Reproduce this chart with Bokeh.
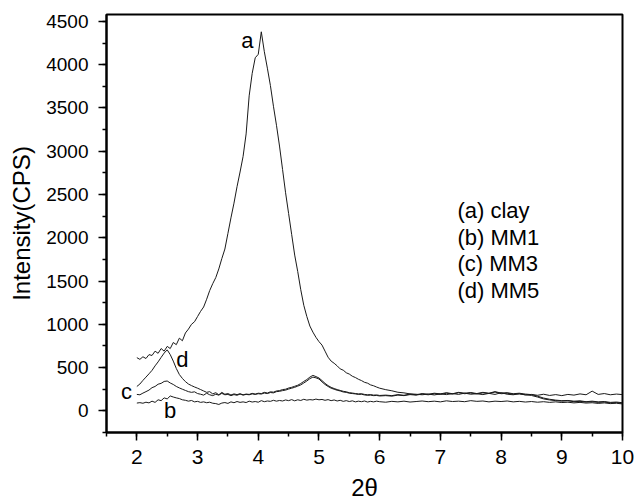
from bokeh.plotting import figure
from bokeh.models import Range1d, SingleIntervalTicker
from bokeh.core.properties import value
from bokeh.embed import file_html
from bokeh.resources import INLINE

# ---------------- data ----------------
two_theta = [2.00, 2.05, 2.10, 2.15, 2.20, 2.25, 2.30, 2.35, 2.40, 2.45,
             2.50, 2.55, 2.60, 2.65, 2.70, 2.75, 2.80, 2.85, 2.90, 2.95,
             3.00, 3.05, 3.10, 3.15, 3.20, 3.25, 3.30, 3.35, 3.40, 3.45,
             3.50, 3.55, 3.60, 3.65, 3.70, 3.75, 3.80, 3.85, 3.90, 3.95,
             4.00, 4.05, 4.10, 4.15, 4.20, 4.25, 4.30, 4.35, 4.40, 4.45,
             4.50, 4.55, 4.60, 4.65, 4.70, 4.75, 4.80, 4.85, 4.90, 4.95,
             5.00, 5.05, 5.10, 5.15, 5.20, 5.25, 5.30, 5.35, 5.40, 5.45,
             5.50, 5.55, 5.60, 5.65, 5.70, 5.75, 5.80, 5.85, 5.90, 5.95,
             6.00,
             6.1, 6.2, 6.3, 6.4, 6.5, 6.6, 6.7, 6.8, 6.9, 7.0,
             7.1, 7.2, 7.3, 7.4, 7.5, 7.6, 7.7, 7.8, 7.9, 8.0,
             8.1, 8.2, 8.3, 8.4, 8.5, 8.6, 8.7, 8.8, 8.9, 9.0,
             9.1, 9.2, 9.3, 9.4, 9.5, 9.6, 9.7, 9.8, 9.9, 10.0]

clay = [615, 595, 625, 605, 650, 640, 690, 665, 720, 690,
        745, 720, 790, 765, 840, 810, 900, 945, 1000, 1030,
        1090, 1150, 1200, 1290, 1390, 1470, 1540, 1640, 1760, 1870,
        2050, 2230, 2400, 2590, 2760, 2940, 3200, 3640, 3900, 4080,
        4120, 4380, 4150, 3960, 3760, 3520, 3300, 3060, 2790, 2520,
        2280, 2040, 1800, 1610, 1400, 1220, 1090, 980, 910, 850,
        800, 760, 690, 620, 575, 550, 520, 485, 470, 440,
        425, 400, 385, 365, 350, 330, 320, 300, 290, 275,
        262,
        245, 232, 215, 208, 196, 192, 186, 194, 184, 196,
        188, 200, 190, 205, 192, 198, 188, 202, 190, 210,
        192, 186, 198, 184, 190, 180, 192, 178, 188, 176,
        190, 182, 196, 186, 228, 190, 200, 186, 194, 188]

mm1 = [90, 95, 88, 100, 92, 112, 98, 128, 118, 150,
       138, 172, 160, 150, 142, 128, 122, 112, 120, 104,
       110, 98, 104, 94, 100, 88, 84, 74, 90, 96,
       86, 104, 94, 108, 98, 104, 96, 112, 102, 108,
       100, 118, 106, 114, 110, 122, 112, 120, 114, 126,
       118, 130, 116, 128, 120, 134, 124, 130, 126, 136,
       128, 132, 122, 130, 118, 126, 114, 122, 110, 118,
       108, 116, 104, 112, 106, 114, 102, 110, 104, 112,
       106,
       100, 110, 104, 112, 102, 108, 114, 106, 112, 104,
       116, 108, 112, 106, 118, 110, 114, 104, 112, 108,
       114, 104, 110, 102, 108, 100, 106, 98, 104, 96,
       100, 92, 98, 90, 94, 86, 92, 84, 88, 80]

mm3 = [190, 186, 205, 222, 240, 268, 282, 308, 318, 340,
       345, 322, 305, 282, 265, 250, 236, 222, 214, 220,
       200, 192, 182, 204, 186, 176, 192, 182, 202, 186,
       190, 176, 188, 180, 194, 182, 190, 186, 196, 190,
       198, 194, 206, 200, 212, 208, 222, 226, 234, 240,
       252, 262, 272, 286, 300, 322, 345, 372, 390, 382,
       368, 335, 305, 282, 262, 250, 238, 230, 218, 214,
       204, 200, 196, 190, 192, 184, 180, 182, 176, 178,
       172,
       176, 170, 182, 176, 188, 182, 194, 186, 198, 190,
       204, 194, 210, 198, 206, 196, 208, 200, 218, 198,
       204, 192, 196, 186, 178, 160, 138, 126, 118, 112,
       116, 106, 110, 102, 106, 98, 102, 92, 96, 88]

mm5 = [282, 310, 352, 390, 428, 468, 520, 566, 618, 668,
       705, 650, 575, 490, 420, 375, 338, 310, 292, 276,
       262, 246, 230, 214, 222, 196, 210, 186, 214, 192,
       200, 184, 196, 188, 198, 186, 194, 190, 202, 194,
       204, 200, 214, 206, 220, 216, 230, 234, 246, 250,
       264, 272, 284, 296, 316, 340, 362, 390, 410, 396,
       380, 350, 318, 292, 272, 258, 246, 236, 226, 220,
       210, 206, 200, 196, 198, 190, 186, 188, 182, 184,
       178,
       182, 176, 188, 180, 194, 186, 200, 192, 204, 196,
       210, 198, 214, 204, 212, 200, 214, 204, 222, 206,
       210, 198, 204, 194, 188, 170, 148, 134, 124, 118,
       120, 112, 116, 106, 112, 104, 108, 98, 102, 94]

curve_letters = ["a", "b", "c", "d"]
legend_labels = ["(a) clay", "(b) MM1", "(c) MM3", "(d) MM5"]

# ---------------- figure ----------------
FONT = "Liberation Sans"

p = figure(width=635, height=503,
           x_range=Range1d(1.5, 10), y_range=Range1d(-250, 4580),
           output_backend="svg", toolbar_location=None,
           min_border_left=106, min_border_right=13,
           min_border_top=14, min_border_bottom=70)

p.background_fill_color = "white"
p.border_fill_color = "white"
p.outline_line_color = "black"
p.outline_line_width = 2
p.xgrid.visible = False
p.ygrid.visible = False

line_color = "#1a1a1a"
for ys in (clay, mm1, mm3, mm5):
    p.line(two_theta, ys, line_color=line_color, line_width=1)

# curve letters
p.text(x=[3.82, 2.55, 1.83, 2.75], y=[4281, 8, 227, 595], text=curve_letters,
       text_font=value(FONT), text_font_size="22px", text_color="black",
       text_align="center", text_baseline="middle")

# legend-like text block
p.text(x=[7.28] * 4, y=[2312, 2006, 1701, 1396], text=legend_labels,
       text_font=value(FONT), text_font_size="22px", text_color="black",
       text_align="left", text_baseline="middle")

# axes
p.xaxis.ticker = SingleIntervalTicker(interval=1, num_minor_ticks=2)
p.yaxis.ticker = SingleIntervalTicker(interval=500, num_minor_ticks=2)

for ax in (p.xaxis[0], p.yaxis[0]):
    ax.axis_line_color = "black"
    ax.axis_line_width = 2
    ax.major_tick_line_color = "black"
    ax.major_tick_line_width = 1.5
    ax.minor_tick_line_color = "black"
    ax.minor_tick_line_width = 1.5
    ax.major_tick_in = 0
    ax.major_tick_out = 8
    ax.minor_tick_in = 0
    ax.minor_tick_out = 4
    ax.major_label_text_font = FONT
    ax.major_label_text_color = "black"
    ax.axis_label_text_font = FONT
    ax.axis_label_text_font_style = "normal"
    ax.axis_label_text_font_size = "24px"
    ax.axis_label_text_color = "black"

p.xaxis.axis_label = "2θ"
p.yaxis.axis_label = "Intensity(CPS)"
p.xaxis.major_label_text_font_size = "21px"
p.yaxis.major_label_text_font_size = "19px"
p.xaxis.major_label_standoff = 9
p.yaxis.major_label_standoff = 10
p.xaxis.axis_label_standoff = 7
p.yaxis.axis_label_standoff = 8

open("out.html", "w").write(file_html(p, INLINE))
